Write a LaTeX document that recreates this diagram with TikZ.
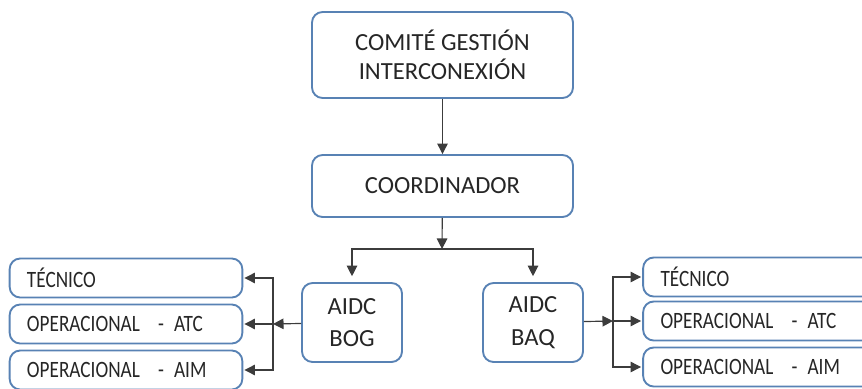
\documentclass[tikz,border=0pt]{standalone}
\usepackage{fontspec}
\setmainfont{Carlito}
\newfontfamily\subfont[FakeStretch=0.82]{Carlito}
\usetikzlibrary{positioning,arrows.meta}
\definecolor{boxblue}{RGB}{88,130,180}
\definecolor{linegray}{RGB}{60,60,60}
\newcommand{\dashsep}{\hspace{0.55cm}-\hspace{0.3cm}}
\tikzset{
	unitbox/.style={draw=boxblue, line width=1.6pt, rounded corners=9pt, fill=white,
		text=black!85, align=center, inner sep=0pt, font=\fontsize{21}{25}\selectfont},
	subbox/.style={unitbox, minimum width=6.98cm, minimum height=1.17cm,
		text width=5.94cm, align=left, font=\subfont\fontsize{20}{24}\selectfont},
	link/.style={draw=linegray, line width=1pt, -{Triangle[length=9pt,width=9pt]}},
}

\begin{document}
\begin{tikzpicture}[x=0.03cm, y=-0.03cm]
		\useasboundingbox (0,0) rectangle (862,388);
		% top of the chart
		\node[unitbox, minimum width=7.83cm, minimum height=2.58cm] (comite) at (442.5,55) {COMITÉ GESTIÓN\\INTERCONEXIÓN};
		\node[unitbox, minimum width=7.83cm, minimum height=1.86cm] (coord) at (442.5,186) {COORDINADOR};
		\node[unitbox, minimum width=3.0cm, minimum height=2.37cm] (bog) at (352,322.5) {AIDC\\[3pt]BOG};
		\node[unitbox, minimum width=3.0cm, minimum height=2.37cm] (baq) at (533,322.5) {AIDC\\[3pt]BAQ};
		% left branch
		\node[subbox] (tecbog) at (126,278) {TÉCNICO};
		\node[subbox] (atcbog) at (126,324) {OPERACIONAL\dashsep ATC};
		\node[subbox] (aimbog) at (126,370) {OPERACIONAL\dashsep AIM};
		% right branch
		\node[subbox] (tecbaq) at (759.5,277) {TÉCNICO};
		\node[subbox] (atcbaq) at (759.5,321) {OPERACIONAL\dashsep ATC};
		\node[subbox] (aimbaq) at (759.5,367) {OPERACIONAL\dashsep AIM};
		% junctions
		\coordinate (jtop) at (442,249);
		\coordinate (jbog) at (273,324);
		\coordinate (jbaq) at (613,321);
		% connectors
		\draw[link] (comite) -- (coord);
		\draw[link] (coord) -- (jtop);
		\draw[link, shorten >=5pt] (jtop) -| (bog.north);
		\draw[link, shorten >=5pt] (jtop) -| (baq.north);
		\draw[link] (bog) -- (jbog);
		\draw[link, shorten >=1pt] (jbog) |- (tecbog);
		\draw[link, shorten >=1pt] (jbog) -- (atcbog);
		\draw[link, shorten >=1pt] (jbog) |- (aimbog);
		\draw[link] (baq) -- (jbaq);
		\draw[link, shorten >=1pt] (jbaq) |- (tecbaq);
		\draw[link, shorten >=1pt] (jbaq) -- (atcbaq);
		\draw[link, shorten >=1pt] (jbaq) |- (aimbaq);
	\end{tikzpicture}
\end{document}
